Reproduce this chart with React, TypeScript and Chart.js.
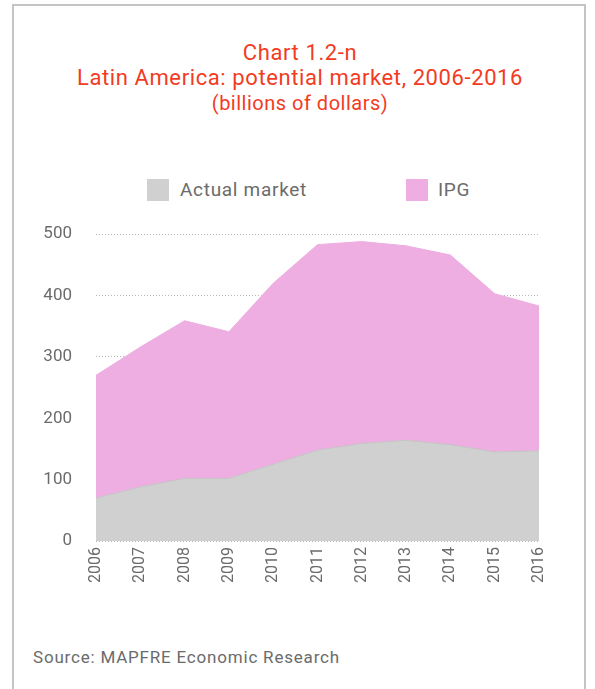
import React, { useEffect, useRef } from "react";
import { Chart, registerables } from "chart.js";

Chart.register(...registerables);

const years = ["2006", "2007", "2008", "2009", "2010", "2011", "2012", "2013", "2014", "2015", "2016"];
const actualMarket = [70, 88, 102, 102, 125, 148, 159, 164, 157, 145, 147];
const ipg = [200, 228, 257, 239, 295, 335, 329, 317, 309, 258, 236];
const yTicks = [0, 100, 200, 300, 400, 500];

const titleLines = ["Chart 1.2-n", "Latin America: potential market, 2006-2016"];
const subtitle = "(billions of dollars)";
const legendLabels = ["Actual market", "IPG"];
const source = "Source: MAPFRE Economic Research";

const GRAY = "#d0d0d0";
const PINK = "#eeaee2";
const RED = "#f23b1f";
const TEXT = "#6b6b6b";
const FONT = "Roboto, 'DejaVu Sans', sans-serif";

export default function App() {
  const ref = useRef<HTMLCanvasElement>(null);
  useEffect(() => {
    if (!ref.current) return;
    const chart = new Chart(ref.current, {
      type: "line",
      data: {
        labels: years,
        datasets: [
          {
            label: legendLabels[0],
            data: actualMarket,
            backgroundColor: GRAY,
            borderColor: "#c4c4c4",
            borderWidth: 1,
            fill: "origin",
            pointRadius: 0,
            tension: 0,
          },
          {
            label: legendLabels[1],
            data: ipg,
            backgroundColor: PINK,
            borderColor: PINK,
            borderWidth: 1,
            fill: "-1",
            pointRadius: 0,
            tension: 0,
          },
        ],
      },
      options: {
        animation: false,
        responsive: false,
        maintainAspectRatio: false,
        layout: { padding: { left: 0, right: 56, top: 33, bottom: 0 } },
        plugins: { legend: { display: false }, tooltip: { enabled: false }, title: { display: false } },
        scales: {
          x: {
            offset: false,
            grid: { display: false, drawTicks: false },
            border: { display: false },
            ticks: {
              minRotation: 90,
              maxRotation: 90,
              padding: 6,
              color: TEXT,
              font: { family: FONT, size: 16 },
            },
            afterFit: (s: any) => {
              s.height = 59;
            },
          },
          y: {
            stacked: true,
            min: 0,
            max: 500,
            z: 1,
            afterBuildTicks: (s: any) => {
              s.ticks = yTicks.map((v) => ({ value: v }));
            },
            grid: { color: "rgba(0,0,0,0.28)", lineWidth: 1, drawTicks: false },
            border: { display: false, dash: [1, 2] },
            ticks: {
              padding: 24,
              color: TEXT,
              font: { family: FONT, size: 17 },
            },
            afterFit: (s: any) => {
              s.width = 96;
            },
          },
        },
      },
    });
    return () => chart.destroy();
  }, []);

  return (
    <div
      style={{
        position: "fixed",
        left: 0,
        top: 0,
        width: 595,
        height: 689,
        background: "#fff",
        fontFamily: FONT,
        overflow: "hidden",
      }}
    >
      <div
        style={{
          position: "absolute",
          left: 12,
          top: 4,
          width: 574,
          height: 700,
          border: "2px solid #c4c4c4",
          boxSizing: "border-box",
        }}
      />
      <div style={{ position: "absolute", left: 0, width: 600, top: 40, textAlign: "center", color: RED, fontSize: 22, lineHeight: "25px", letterSpacing: 0.6 }}>
        <div>{titleLines[0]}</div>
        <div>{titleLines[1]}</div>
        <div style={{ fontSize: 20, lineHeight: "26px", letterSpacing: 0.5 }}>{subtitle}</div>
      </div>
      <div style={{ position: "absolute", left: 147, top: 179, width: 22, height: 22, background: GRAY }} />
      <div style={{ position: "absolute", left: 180, top: 177, fontSize: 19, lineHeight: "26px", color: TEXT, letterSpacing: 0.7 }}>{legendLabels[0]}</div>
      <div style={{ position: "absolute", left: 406, top: 179, width: 22, height: 22, background: PINK }} />
      <div style={{ position: "absolute", left: 438, top: 177, fontSize: 19, lineHeight: "26px", color: TEXT, letterSpacing: 0.7 }}>{legendLabels[1]}</div>
      <canvas ref={ref} width={595} height={400} style={{ position: "absolute", left: 0, top: 200, width: 595, height: 400 }} />
      <div style={{ position: "absolute", left: 33, top: 646, fontSize: 17, lineHeight: "22px", color: TEXT, letterSpacing: 0.8 }}>{source}</div>
    </div>
  );
}
